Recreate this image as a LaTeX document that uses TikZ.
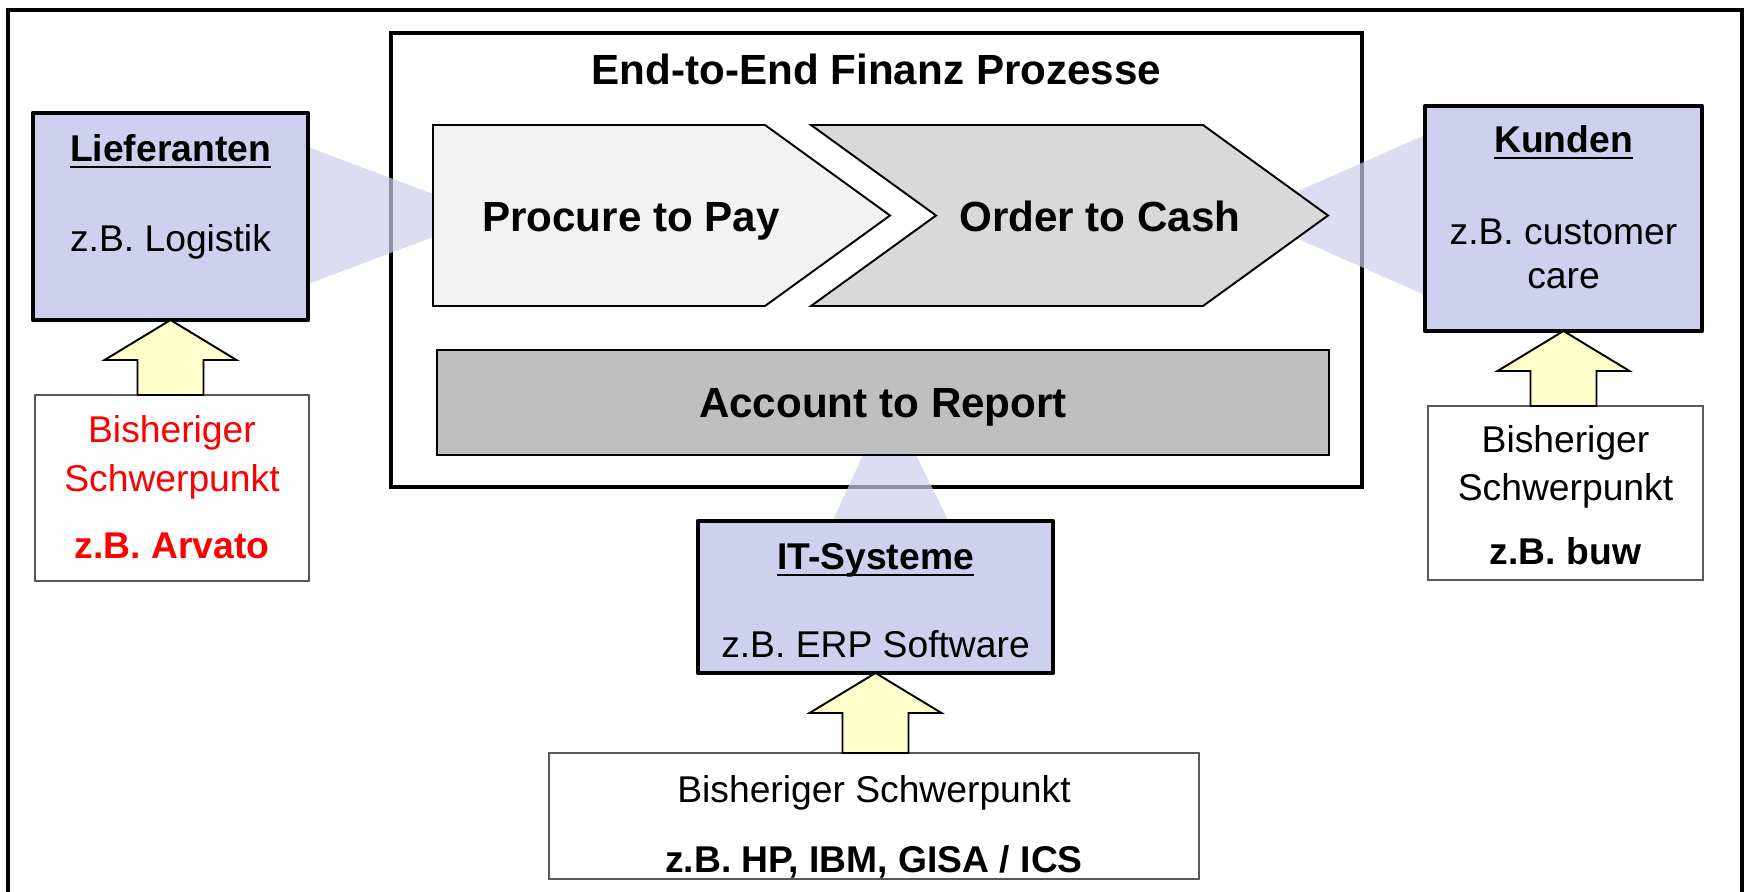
\documentclass[tikz,border=0pt]{standalone}
\usepackage{fontspec}
\setmainfont{Liberation Sans}
\usetikzlibrary{calc,fit}

\definecolor{lav}{HTML}{CFCFEE}
\definecolor{lavlink}{HTML}{CECEEB}
\definecolor{paleg}{HTML}{F2F2F2}
\definecolor{midg}{HTML}{D9D9D9}
\definecolor{darkg}{HTML}{BFBFBF}
\definecolor{cream}{HTML}{FFFFCC}
\definecolor{edgeg}{HTML}{595959}

\pgfdeclarelayer{back}
\pgfdeclarelayer{mid}
\pgfsetlayers{back,mid,main}

% underlined heading: rule sits just below the baseline
\newcommand\ultext[1]{\setbox0\hbox{#1}\rlap{\rule[-2.1pt]{\wd0}{0.75pt}}\box0}
% block arrow pointing up from the top of #2 to the bottom of #1
\newcommand\blockup[2]{%
  \coordinate (#1-foot) at (#2.north -| #1.south);
  \draw[blockarrow] (#1.south) -- ($(#1.south)+(66,40)$) -- ($(#1.south)+(33,40)$)
    -- ($(#1-foot)+(33,0)$) -- ($(#1-foot)+(-33,0)$)
    -- ($(#1.south)+(-33,40)$) -- ($(#1.south)+(-66,40)$) -- cycle;}

\begin{document}
\begin{tikzpicture}[x=0.1mm, y=-0.1mm,
  area/.style={rectangle, inner sep=0pt, outer sep=0pt},
  heavy/.style={line width=1.4pt},
  bluebox/.style={area, draw, fill=lav, line width=1.3pt, line join=round},
  notebox/.style={area, draw=edgeg, fill=white, line width=0.5pt},
  chev/.style={draw, line width=0.55pt, line join=miter},
  blockarrow/.style={draw, fill=cream, line width=0.55pt, line join=miter},
  link/.style={fill=lavlink, fill opacity=0.7},
  big/.style={inner sep=0pt, anchor=base, font=\fontsize{12}{14}\selectfont\bfseries},
  lbl/.style={inner sep=0pt, anchor=base, font=\fontsize{10.6}{12.7}\selectfont},
  lblb/.style={lbl, font=\fontsize{10.6}{12.7}\selectfont\bfseries},
]
\useasboundingbox (0,0) rectangle (1748,891);

% frames
\begin{pgfonlayer}{back}
  \draw[heavy] (8,900) -- (8,10) -- (1742,10) -- (1742,900);
  \node[area, draw, heavy, fit={(391,33) (1362,487)}] (e2e) {};
\end{pgfonlayer}

\node[big] (e2et) at (876.5,84.5) {End-to-End Finanz Prozesse};

% process chevrons
\node[area, fit={(433,125) (890,306)}] (p2p) {};
\node[area, fit={(811,125) (1328,306)}] (o2c) {};
\draw[chev, fill=paleg] (p2p.north west) -- ($(p2p.north east)+(-125,0)$) -- (p2p.east)
  -- ($(p2p.south east)+(-125,0)$) -- (p2p.south west) -- cycle;
\draw[chev, fill=midg] (o2c.north west) -- ($(o2c.north east)+(-125,0)$) -- (o2c.east)
  -- ($(o2c.south east)+(-125,0)$) -- (o2c.south west) -- ($(o2c.west)+(125,0)$) -- cycle;
\node[big] (p2pt) at (631,231.5) {Procure to Pay};
\node[big] (o2ct) at (1100,231.5) {Order to Cash};

\node[area, draw, fill=darkg, line width=0.55pt, fit={(437,350) (1329,455)}] (a2r) {};
\node[big] (a2rt) at (883,417) {Account to Report};

% partner boxes
\node[bluebox, fit={(33,113) (308,320)}] (lief) {};
\node[lblb] (lieft) at (lief.center |- 0,161) {\ultext{Lieferanten}};
\node[lbl] (liefs) at (lief.center |- 0,251) {z.B. Logistik};

\node[bluebox, fit={(1425,106) (1702,331)}] (kund) {};
\node[lblb] (kundt) at (kund.center |- 0,152) {\ultext{Kunden}};
\node[lbl] (kunds1) at (kund.center |- 0,244) {z.B. customer};
\node[lbl] (kunds2) at (kund.center |- 0,288) {care};

\node[bluebox, fit={(698,521) (1053,673)}] (its) {};
\node[lblb] (itst) at (its.center |- 0,569) {\ultext{IT-Systeme}};
\node[lbl] (itss) at (its.center |- 0,657) {z.B. ERP Software};

% translucent links between partners and processes
\begin{pgfonlayer}{mid}
  \fill[link] ($(lief.north east)+(0,34)$) -- ($(p2p.north west)+(0,69)$)
    -- ($(p2p.south west)+(0,-69)$) -- ($(lief.south east)+(0,-36)$) -- cycle;
  \fill[link] ($(kund.north west)+(0,29)$) -- ($(o2c.east)+(-48,-16.5)$)
    -- ($(o2c.east)+(-48,15.5)$) -- ($(kund.south west)+(0,-36)$) -- cycle;
  \fill[link] ($(a2r.south)+(-20,0)$) -- ($(a2r.south)+(33,0)$)
    -- ($(its.north)+(73,0)$) -- ($(its.north)+(-43,0)$) -- cycle;
\end{pgfonlayer}

% focus notes
\node[notebox, fit={(35,395) (309,581)}] (lnote) {};
\node[lbl, text=red] (lnote1) at (lnote.center |- 0,442) {Bisheriger};
\node[lbl, text=red] (lnote2) at (lnote.center |- 0,491) {Schwerpunkt};
\node[lblb, text=red] (lnote3) at (lnote.center |- 0,558) {z.B. Arvato};

\node[notebox, fit={(1428,406) (1703,580)}] (rnote) {};
\node[lbl] (rnote1) at (rnote.center |- 0,452) {Bisheriger};
\node[lbl] (rnote2) at (rnote.center |- 0,500) {Schwerpunkt};
\node[lblb] (rnote3) at (rnote.center |- 0,564) {z.B. buw};

\node[notebox, fit={(549,753) (1199,879)}] (bnote) {};
\node[lbl] (bnote1) at (bnote.center |- 0,802) {Bisheriger Schwerpunkt};
\node[lblb] (bnote2) at (bnote.center |- 0,872) {z.B. HP, IBM, GISA / ICS};

% arrows from the notes up to the partner boxes
\blockup{lief}{lnote}
\blockup{kund}{rnote}
\blockup{its}{bnote}
\end{tikzpicture}
\end{document}
